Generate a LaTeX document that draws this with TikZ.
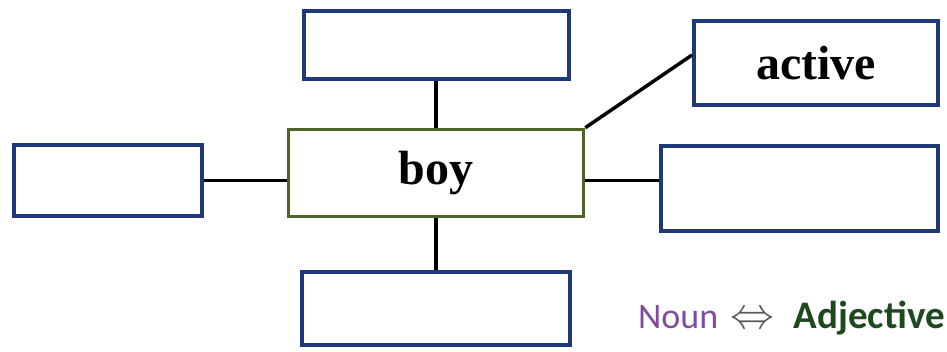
\RequirePackage{fix-cm}
\documentclass[tikz,border=0pt]{standalone}
\usepackage{fontspec}
\setmainfont{Liberation Serif}
\newfontfamily\legendfont{Carlito}
\definecolor{navy}{RGB}{31,56,122}
\definecolor{boxgreen}{RGB}{79,98,40}
\definecolor{adjgreen}{RGB}{30,72,30}
\definecolor{nounpurple}{RGB}{128,76,160}
\begin{document}
\begin{tikzpicture}[x=1pt,y=1pt,
  wordbox/.style={draw=navy,line width=4pt,fill=white,inner sep=0pt,
    font=\fontsize{48}{56}\selectfont\bfseries},
  centerbox/.style={draw=boxgreen,line width=3.5pt,fill=white,inner sep=0pt,
    font=\fontsize{48}{56}\selectfont\bfseries},
  link/.style={draw=black,line width=3.5pt},
  legendtext/.style={inner sep=0pt,font=\legendfont}]
\useasboundingbox (0,0) rectangle (947,351);
\fill[white] (0,0) rectangle (947,351);
\node[centerbox,minimum width=295pt,minimum height=87pt] (boy) at (436,178) {boy};
\node[wordbox,minimum width=265pt,minimum height=68pt] (top) at (436,306) {};
\node[wordbox,minimum width=268pt,minimum height=73pt] (bottom) at (436,42.5) {};
\node[wordbox,minimum width=188pt,minimum height=71pt] (left) at (108,170.5) {};
\node[wordbox,minimum width=277pt,minimum height=85pt] (right) at (799.5,162.5) {};
\node[wordbox,minimum width=244pt,minimum height=84pt] (active) at (816,288) {active};
\draw[link] (top.south) -- (boy.north);
\draw[link] (boy.south) -- (bottom.north);
\draw[link] (left.east) -- (left.east -| boy.west);
\draw[link] (left.east -| boy.east) -- (left.east -| right.west);
\draw[link] (boy.north east) -- ([yshift=8pt]active.west);
\node[legendtext,anchor=base west,text=nounpurple,font=\legendfont\fontsize{36}{40}\selectfont] (noun) at (638,23) {Noun};
\node[legendtext,anchor=base,text=gray!70!black,font=\fontsize{44}{48}\selectfont] (arrow) at (752,23) {$\Leftrightarrow$};
\node[legendtext,anchor=base east,text=adjgreen,font=\legendfont\fontsize{39}{42}\selectfont\bfseries] (adj) at (945,23) {Adjective};
\end{tikzpicture}
\end{document}
